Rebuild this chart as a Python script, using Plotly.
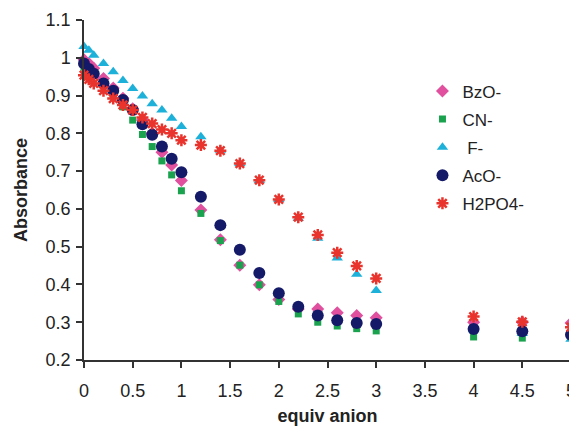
import plotly.graph_objects as go

x_equiv = [0, 0.05, 0.1, 0.2, 0.3, 0.4, 0.5, 0.6, 0.7, 0.8, 0.9, 1.0,
           1.2, 1.4, 1.6, 1.8, 2.0, 2.2, 2.4, 2.6, 2.8, 3.0, 4.0, 4.5, 5.0]

bzo = [0.995, 0.985, 0.972, 0.945, 0.92, 0.893, 0.865, 0.835, 0.80, 0.75, 0.716, 0.675,
       0.597, 0.518, 0.451, 0.399, 0.36, 0.335, 0.335, 0.325, 0.318, 0.312, 0.30, 0.30, 0.298]
cn = [0.975, 0.965, 0.955, 0.93, 0.90, 0.87, 0.835, 0.797, 0.765, 0.727, 0.69, 0.648,
      0.588, 0.516, 0.451, 0.399, 0.355, 0.322, 0.30, 0.29, 0.283, 0.277, 0.261, 0.258, 0.262]
f_ion = [1.03, 1.02, 1.007, 0.985, 0.963, 0.94, 0.919, 0.899, 0.878, 0.862, 0.84, 0.818,
         0.791, 0.755, 0.72, 0.675, 0.625, 0.575, 0.522, 0.47, 0.427, 0.384, 0.28, 0.27, 0.255]
aco = [0.985, 0.97, 0.958, 0.932, 0.913, 0.888, 0.862, 0.824, 0.796, 0.765, 0.733, 0.697,
       0.632, 0.557, 0.492, 0.43, 0.377, 0.341, 0.318, 0.305, 0.298, 0.295, 0.282, 0.276, 0.267]
h2po4 = [0.954, 0.943, 0.932, 0.913, 0.892, 0.875, 0.862, 0.842, 0.826, 0.81, 0.80, 0.782,
         0.769, 0.754, 0.72, 0.676, 0.625, 0.578, 0.531, 0.484, 0.449, 0.416, 0.315, 0.301, 0.287]

names = ["BzO-", "CN-", " F-", "AcO-", "H2PO4-"]

series = [bzo, cn, f_ion, aco, h2po4]
styles = [
    dict(symbol="diamond", size=10, color="#E0509E"),
    dict(symbol="square", size=7, color="#1BA24E"),
    dict(symbol="triangle-up", size=10, color="#1DB1DA"),
    dict(symbol="circle", size=12, color="#141A68"),
    dict(symbol="asterisk-open", size=10, color="#E8342C", line=dict(color="#E8342C", width=2.5)),
]

fig = go.Figure()
for i, (nm, ys, st) in enumerate(zip(names, series, styles)):
    marker = dict(st)
    if "line" not in marker:
        marker["line"] = dict(width=0)
    fig.add_trace(go.Scatter(x=x_equiv, y=ys, mode="markers", name=nm,
                             legendgroup=f"g{i}", marker=marker, cliponaxis=False))

font_family = "Liberation Sans, Arial, sans-serif"
fig.update_layout(
    width=569, height=418,
    margin=dict(l=76, r=6, t=12, b=66, autoexpand=False),
    paper_bgcolor="white", plot_bgcolor="white",
    font=dict(family=font_family, size=17, color="#222222"),
    showlegend=True,
    legend=dict(x=0.695, y=0.843, xanchor="left", yanchor="top",
                font=dict(size=17, color="#222222"), itemwidth=30,
                tracegroupgap=3, bgcolor="rgba(0,0,0,0)"),
    xaxis=dict(range=[0, 5], dtick=0.5, tick0=0, showgrid=False, zeroline=False,
               showline=True, linecolor="#333333", linewidth=1.5, automargin=False,
               ticks="outside", ticklen=6, tickcolor="#333333", tickwidth=1.5,
               tickfont=dict(size=18), ticklabelstandoff=8,
               title=dict(text="<b>equiv anion</b>", font=dict(size=18), standoff=9)),
    yaxis=dict(range=[0.2, 1.1], dtick=0.1, tick0=0.2, showgrid=False, zeroline=False,
               showline=True, linecolor="#333333", linewidth=1.5, automargin=False,
               ticks="outside", ticklen=6, tickcolor="#333333", tickwidth=1.5,
               tickfont=dict(size=18), ticklabelstandoff=2,
               title=dict(text="<b>Absorbance</b>", font=dict(size=18), standoff=13)),
)

fig.write_html("out.html")
